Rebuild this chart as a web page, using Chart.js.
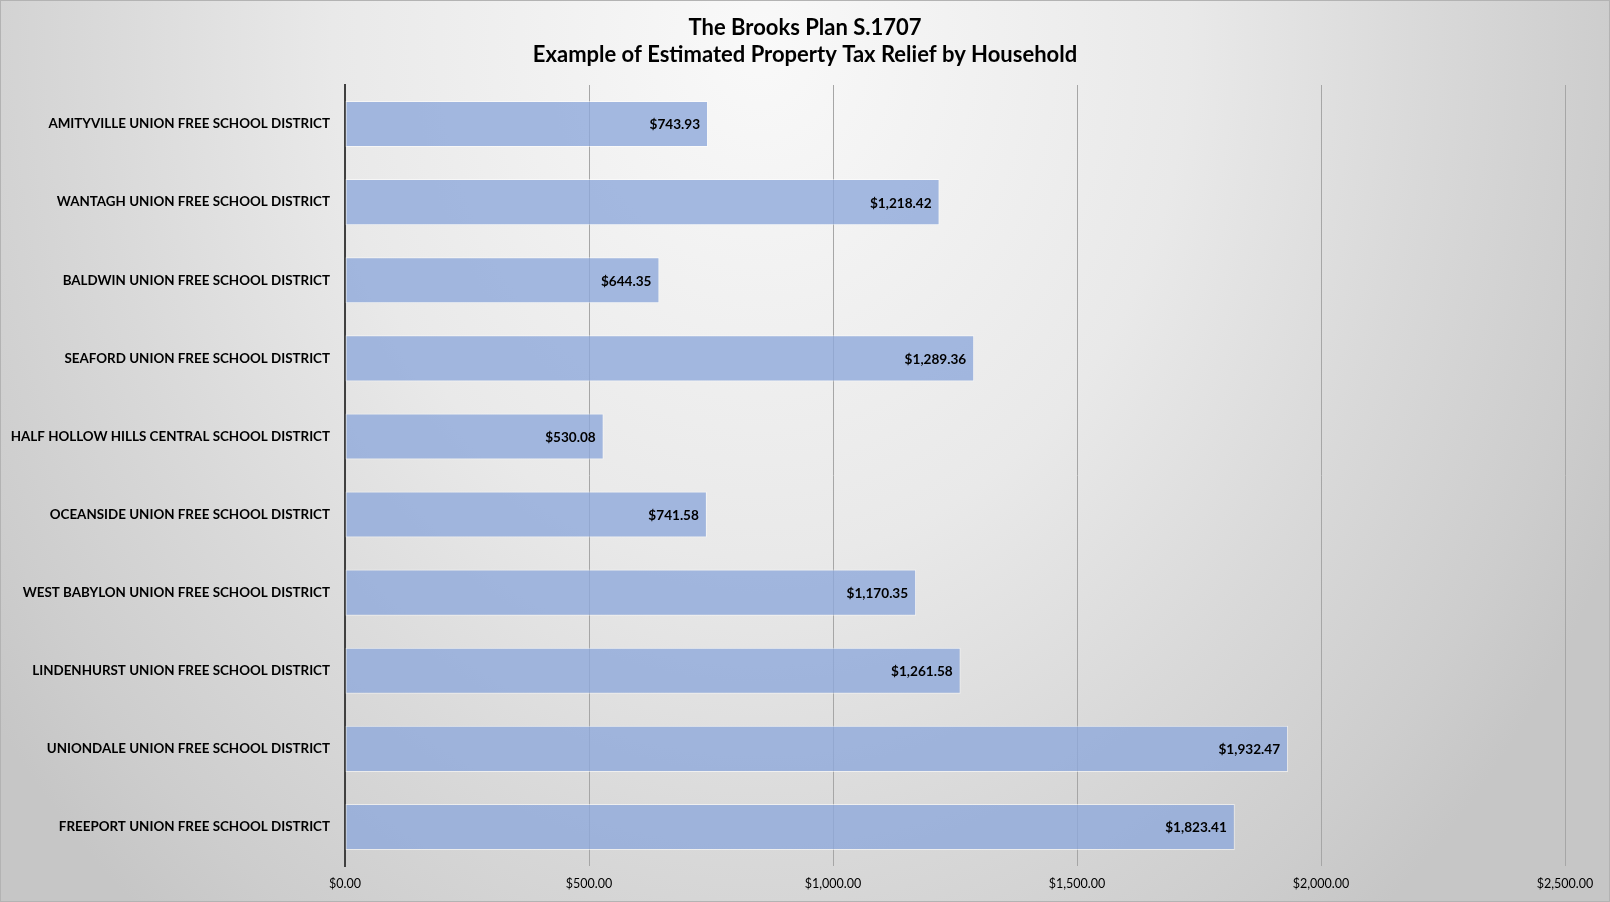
<!DOCTYPE html>
<html>
<head>
<meta charset="utf-8">
<script src="https://cdn.jsdelivr.net/npm/chart.js@4"></script>
<style>
  html, body { margin: 0; padding: 0; background: #d8d8d8; }
  #wrap { width: 1610px; height: 902px; position: relative; }
</style>
</head>
<body>
<div id="wrap"><canvas id="c"></canvas></div>
<script>
const categories = [
  "AMITYVILLE UNION FREE SCHOOL DISTRICT",
  "WANTAGH UNION FREE SCHOOL DISTRICT",
  "BALDWIN UNION FREE SCHOOL DISTRICT",
  "SEAFORD UNION FREE SCHOOL DISTRICT",
  "HALF HOLLOW HILLS CENTRAL SCHOOL DISTRICT",
  "OCEANSIDE UNION FREE SCHOOL DISTRICT",
  "WEST BABYLON UNION FREE SCHOOL DISTRICT",
  "LINDENHURST UNION FREE SCHOOL DISTRICT",
  "UNIONDALE UNION FREE SCHOOL DISTRICT",
  "FREEPORT UNION FREE SCHOOL DISTRICT"
];
const reliefValues = [743.93, 1218.42, 644.35, 1289.36, 530.08, 741.58, 1170.35, 1261.58, 1932.47, 1823.41];
const xTicks = [0, 500, 1000, 1500, 2000, 2500];
const titleLines = ["The Brooks Plan S.1707", "Example of Estimated Property Tax Relief by Household"];

const FONT = "Lato, 'Open Sans', sans-serif";
const money = v => "$" + Number(v).toLocaleString("en-US", {minimumFractionDigits: 2, maximumFractionDigits: 2});

const bgPlugin = {
  id: "bg",
  beforeDraw(chart) {
    const ctx = chart.ctx, w = chart.width, h = chart.height;
    ctx.save();
    const cx = 760, cy = 40, rx = 950, ry = 1150;
    ctx.translate(cx, cy);
    ctx.scale(rx / ry, 1);
    const g = ctx.createRadialGradient(0, 0, 0, 0, 0, ry);
    g.addColorStop(0, "#f9f9f9");
    g.addColorStop(0.45, "#e9e9e9");
    g.addColorStop(0.7, "#d9d9d9");
    g.addColorStop(0.9, "#cdcdcd");
    g.addColorStop(1, "#c6c6c6");
    ctx.fillStyle = g;
    ctx.fillRect(-cx * ry / rx - 10, -cy - 10, (w + 20) * ry / rx + 20, h + 20);
    ctx.restore();
    ctx.save();
    ctx.strokeStyle = "#b3b3b3";
    ctx.lineWidth = 1;
    ctx.strokeRect(0.5, 0.5, w - 1, h - 1);
    ctx.restore();
  }
};

const labelPlugin = {
  id: "valueLabels",
  afterDatasetsDraw(chart) {
    const ctx = chart.ctx;
    const meta = chart.getDatasetMeta(0);
    ctx.save();
    ctx.font = "bold 13.6px " + FONT;
    ctx.fillStyle = "#000";
    ctx.textAlign = "right";
    ctx.textBaseline = "middle";
    meta.data.forEach((bar, i) => {
      ctx.fillText(money(chart.data.datasets[0].data[i]), bar.x - 8, bar.y + 1);
    });
    ctx.restore();
  }
};

new Chart(document.getElementById("c"), {
  type: "bar",
  data: {
    labels: categories,
    datasets: [{
      data: reliefValues,
      backgroundColor: "rgba(142,169,219,0.8)",
      borderColor: "rgba(255,255,255,0.55)",
      borderWidth: 1,
      borderSkipped: false,
      barPercentage: 0.59,
      categoryPercentage: 1
    }]
  },
  options: {
    indexAxis: "y",
    responsive: true,
    maintainAspectRatio: false,
    animation: false,
    devicePixelRatio: 1,
    layout: { padding: 0 },
    plugins: {
      legend: { display: false },
      tooltip: { enabled: false },
      title: {
        display: true,
        text: titleLines,
        color: "#000",
        font: { family: FONT, size: 22, weight: "bold", lineHeight: 1.25 },
        padding: { top: 14, bottom: 16 }
      }
    },
    scales: {
      x: {
        type: "linear",
        min: 0,
        max: 2500,
        afterBuildTicks: s => { s.ticks = xTicks.map(v => ({ value: v })); },
        afterFit: s => { s.height = 36; },
        grid: { color: "#a6a6a6", lineWidth: 1, drawTicks: false },
        border: { display: false },
        ticks: {
          color: "#000",
          padding: 10,
          font: { family: FONT, size: 12.5 },
          callback: v => money(v)
        }
      },
      y: {
        type: "category",
        afterFit: s => { s.width = 345; },
        grid: { display: false, drawTicks: false },
        border: { display: true, color: "#404040", width: 2 },
        ticks: {
          color: "#000",
          padding: 15,
          font: { family: FONT, size: 13.4, weight: "bold" }
        }
      },
      yRightSpace: {
        type: "category",
        position: "right",
        display: true,
        afterFit: s => { s.width = 45; },
        grid: { display: false, drawTicks: false },
        border: { display: false },
        ticks: { display: false }
      }
    }
  },
  plugins: [bgPlugin, labelPlugin]
});
</script>
</body>
</html>
